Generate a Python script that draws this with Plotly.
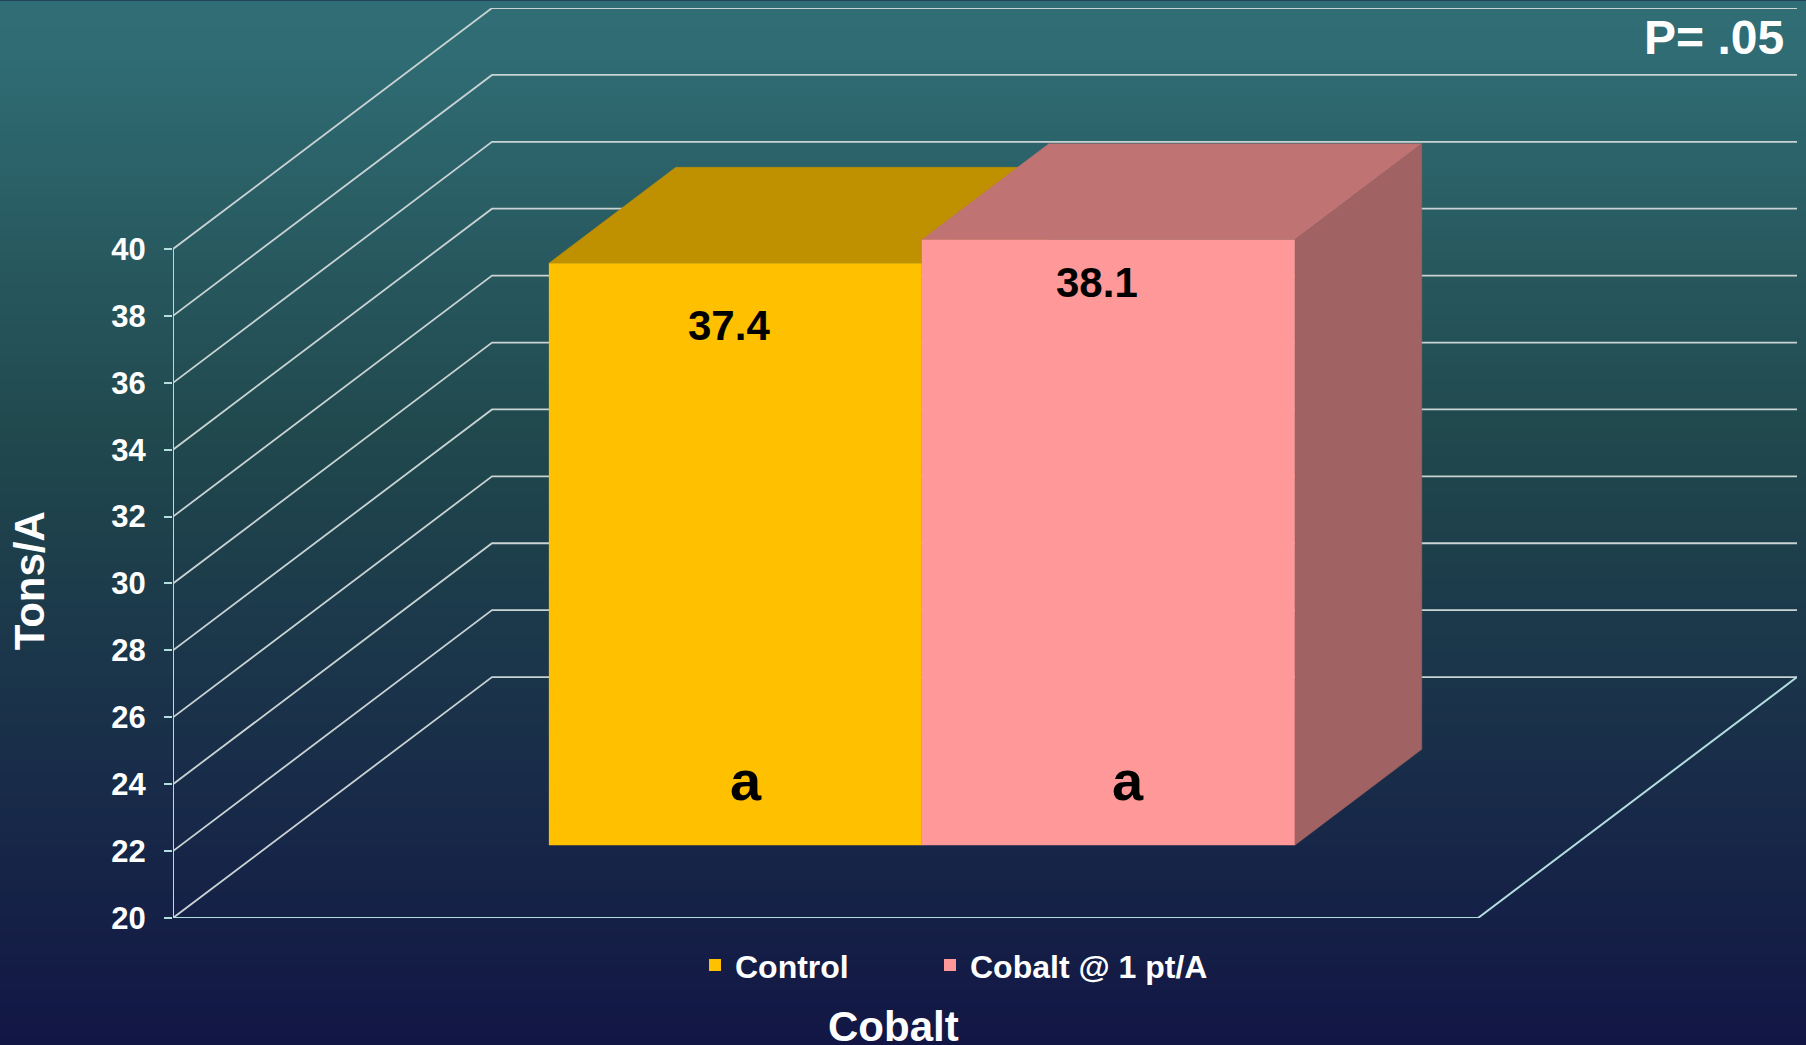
import base64
import struct
import zlib
import plotly.graph_objects as go

# ---------- data ----------
categories = ["Control", "Cobalt @ 1 pt/A"]
values = [37.4, 38.1]
letters = ["a", "a"]
y_ticks = [20, 22, 24, 26, 28, 30, 32, 34, 36, 38, 40]

# ---------- styles ----------
front_colors = ["#FFC000", "#FF9999"]
top_colors = ["#BF9000", "#BF7373"]
side_colors = ["#A07A00", "#A06262"]
GRID = "#C9D3D3"
AXIS = "#B4DDE0"
Y_MIN = 20
# projection of the depth axis into the picture, in axis units
DEPTH_X = 319 / 1305
DEPTH_Y = 241 / 33.46
BAR_WIDTH = 0.2858
BAR_CENTERS = [0.5 - BAR_WIDTH / 2, 0.5 + BAR_WIDTH / 2]
D_FRONT, D_BACK = 0.302, 0.70
FONT = "Liberation Sans"


def proj(x, y, d):
    return x + d * DEPTH_X, y + d * DEPTH_Y


def gradient_png():
    stops = [(0.0, (0x30, 0x6D, 0x75)), (0.05, (0x30, 0x6C, 0x74)),
             (0.42, (0x20, 0x48, 0x4D)), (1.0, (0x12, 0x16, 0x45))]
    h = 1045
    raw = b""
    for i in range(h):
        t = i / (h - 1)
        for (t0, c0), (t1, c1) in zip(stops, stops[1:]):
            if t <= t1:
                f = (t - t0) / (t1 - t0)
                c = [round(a + (b - a) * f) for a, b in zip(c0, c1)]
                break
        raw += b"\x00" + bytes(c)

    def chunk(tag, d):
        return struct.pack(">I", len(d)) + tag + d + struct.pack(">I", zlib.crc32(tag + d))
    png = (b"\x89PNG\r\n\x1a\n" + chunk(b"IHDR", struct.pack(">IIBBBBB", 1, h, 8, 2, 0, 0, 0))
           + chunk(b"IDAT", zlib.compress(raw)) + chunk(b"IEND", b""))
    return "data:image/png;base64," + base64.b64encode(png).decode()


fig = go.Figure()

# walls: gridlines from the axis up the side wall, then along the back wall
for v in y_ticks:
    x0, y0 = proj(0, v, 0)
    x1, y1 = proj(0, v, 1)
    x2, y2 = proj(1, v, 1)
    fig.add_trace(go.Scatter(x=[x0, x1, x2], y=[y0, y1, y2], mode="lines",
                             line=dict(color=GRID, width=1.8), showlegend=False,
                             hoverinfo="skip", cliponaxis=False, zorder=0))

# value axis and floor edges
fig.add_trace(go.Scatter(x=[0, 0], y=[Y_MIN, y_ticks[-1]], mode="lines",
                         line=dict(color=AXIS, width=2), showlegend=False,
                         hoverinfo="skip", cliponaxis=False, zorder=1))
fx, fy = proj(1, Y_MIN, 1)
fig.add_trace(go.Scatter(x=[0, 1, fx], y=[Y_MIN, Y_MIN, fy], mode="lines",
                         line=dict(color=AXIS, width=2), showlegend=False,
                         hoverinfo="skip", cliponaxis=False, zorder=1))

# 3-D faces of the bars
for i, (c, v) in enumerate(zip(BAR_CENTERS, values)):
    left, right = c - BAR_WIDTH / 2, c + BAR_WIDTH / 2
    faces = [
        ([(left, v, D_FRONT), (right, v, D_FRONT), (right, v, D_BACK), (left, v, D_BACK)], top_colors[i]),
        ([(right, Y_MIN, D_FRONT), (right, v, D_FRONT), (right, v, D_BACK), (right, Y_MIN, D_BACK)], side_colors[i]),
    ]
    for pts, col in faces:
        xy = [proj(*p) for p in pts]
        fig.add_trace(go.Scatter(x=[p[0] for p in xy] + [xy[0][0]], y=[p[1] for p in xy] + [xy[0][1]],
                                 mode="lines", fill="toself", fillcolor=col, line=dict(color=col, width=0.5),
                                 showlegend=False, hoverinfo="skip", zorder=2 + i))

# front faces of the bars
base_x_offset, base_y_offset = proj(0, 0, D_FRONT)
legend_ids = ["legend", "legend2"]
for i, (name, c, v) in enumerate(zip(categories, BAR_CENTERS, values)):
    fig.add_trace(go.Bar(x=[c + base_x_offset], y=[v - Y_MIN], base=[Y_MIN + base_y_offset],
                         width=[BAR_WIDTH], name=name, legend=legend_ids[i],
                         marker=dict(color=front_colors[i], line=dict(width=0)), zorder=6))

annotations = []
# value labels and significance letters
value_shift = [(-6, -62), (-11, -43)]
letter_shift = [(11, 65), (20, 65)]
for i, (c, v, l) in enumerate(zip(BAR_CENTERS, values, letters)):
    px = c + base_x_offset
    annotations.append(dict(x=px, y=v + base_y_offset, xref="x", yref="y", text=f"<b>{v}</b>", showarrow=False,
                            xshift=value_shift[i][0], yshift=value_shift[i][1],
                            font=dict(family=FONT, size=42, color="black"), xanchor="center", yanchor="middle"))
    annotations.append(dict(x=px, y=Y_MIN + base_y_offset, xref="x", yref="y", text=f"<b>{l}</b>", showarrow=False,
                            xshift=letter_shift[i][0], yshift=letter_shift[i][1],
                            font=dict(family=FONT, size=56, color="black"), xanchor="center", yanchor="middle"))

W, H = 1806, 1045
L, R, T, B = 173, 9, 7.5, 127.3
pw, ph = W - L - R, H - T - B


def paper(px, py):
    return (px - L) / pw, (H - B - py) / ph


x_t, y_t = paper(29, 581)
annotations.append(dict(x=x_t, y=y_t, xref="paper", yref="paper", text="<b>Tons/A</b>", textangle=-90,
                        showarrow=False, xanchor="center", yanchor="middle",
                        font=dict(family=FONT, size=42, color="white")))
x_t, y_t = paper(893, 1026)
annotations.append(dict(x=x_t, y=y_t, xref="paper", yref="paper", text="<b>Cobalt</b>",
                        showarrow=False, xanchor="center", yanchor="middle",
                        font=dict(family=FONT, size=42, color="white")))
x_t, y_t = paper(1714, 37)
annotations.append(dict(x=x_t, y=y_t, xref="paper", yref="paper", text="<b>P= .05</b>",
                        showarrow=False, xanchor="center", yanchor="middle",
                        font=dict(family=FONT, size=48, color="white")))

lx1, ly = paper(695, 965)
lx2, _ = paper(930, 965)
legend_style = dict(orientation="h", y=ly, xanchor="left", yanchor="middle", bgcolor="rgba(0,0,0,0)",
                    font=dict(family=FONT, size=32, color="white", weight="bold"),
                    itemclick=False, itemdoubleclick=False)

fig.update_layout(
    width=W, height=H,
    margin=dict(l=L, r=R, t=T, b=B, pad=0, autoexpand=False),
    paper_bgcolor="#12173F", plot_bgcolor="rgba(0,0,0,0)",
    barmode="overlay",
    images=[dict(source=gradient_png(), xref="paper", yref="paper", x=-L / pw, y=1 + T / ph,
                 sizex=W / pw, sizey=H / ph, sizing="stretch", xanchor="left", yanchor="top", layer="below")],
    xaxis=dict(range=[0, 1 + DEPTH_X], visible=False, fixedrange=True),
    yaxis=dict(range=[Y_MIN, y_ticks[-1] + DEPTH_Y], tickvals=y_ticks, ticktext=[str(t) for t in y_ticks],
               showgrid=False, zeroline=False, showline=False, ticks="outside", ticklen=8, tickwidth=1.8,
               tickcolor=AXIS, ticklabelstandoff=12,
               tickfont=dict(family=FONT, size=31, color="white", weight="bold"), fixedrange=True),
    legend=dict(x=lx1, **legend_style),
    legend2=dict(x=lx2, **legend_style),
    annotations=annotations,
    showlegend=True,
    hovermode=False,
)

fig.write_html("out.html", config={"displayModeBar": False},
               post_script="document.body.style.margin='0';document.documentElement.style.overflow='hidden';")
